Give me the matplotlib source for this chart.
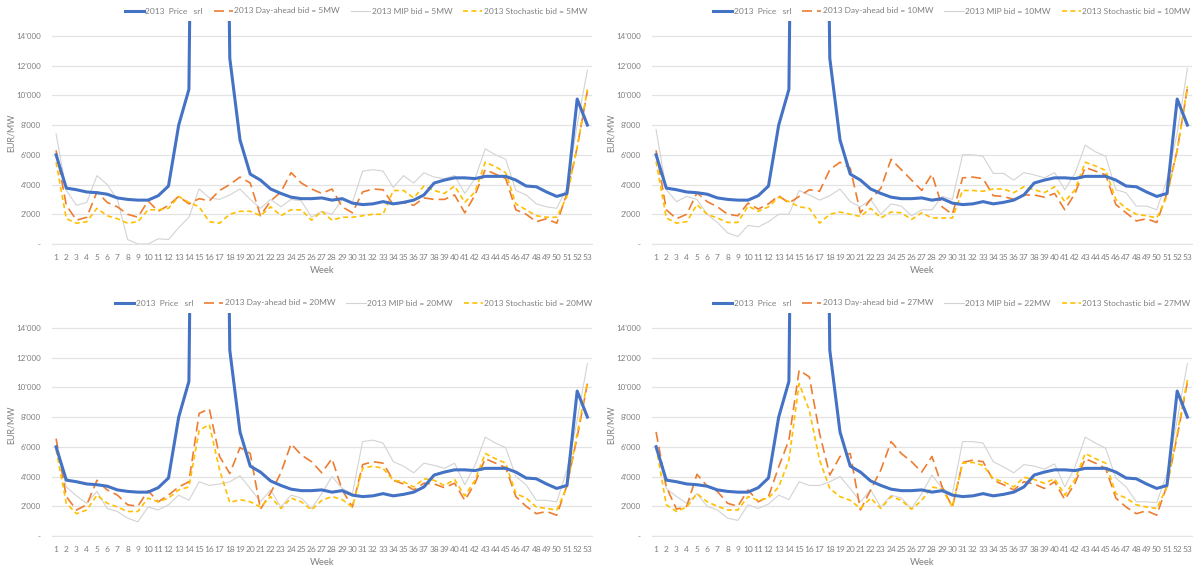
import matplotlib
matplotlib.use("Agg")
import matplotlib.pyplot as plt
from matplotlib.ticker import FuncFormatter, MultipleLocator
import numpy as np

plt.rcParams["font.family"] = ["Lato", "DejaVu Sans"]

weeks = np.arange(1, 54)

# blue price line is the same in all four panels; weeks 15-17 run far off the
# top of the axis in the source, so those three values are rough guesses
price_srl = [6000, 3760, 3650, 3500, 3450, 3350, 3100, 3000, 2950, 2950,
             3250, 3900, 8000, 10400, 75000, 90000, 70000, 12500, 7000, 4700,
             4300, 3700, 3400, 3150, 3050, 3050, 3100, 2950, 3050, 2750,
             2650, 2700, 2850, 2700, 2800, 2950, 3300, 4100, 4300, 4450,
             4450, 4400, 4550, 4550, 4550, 4300, 3900, 3850, 3500, 3200,
             3400, 9750, 8000]

# panel 1: 5 MW
dayahead_5 = [6300, 2600, 1600, 1800, 3500, 2800, 2500, 2000, 1800, 2900,
              2200, 2600, 3200, 2700, 3050, 2900, 3600, 4000, 4500, 4100,
              1900, 2900, 3500, 4800, 4100, 3700, 3400, 3700, 2500, 2100,
              3500, 3700, 3650, 2650, 2800, 2600, 3100, 3000, 3000, 3300,
              2100, 3300, 5000, 4700, 4400, 2300, 2000, 1500, 1700, 1400,
              3400, 6500, 10300]
mip_5 = [7400, 3600, 2600, 2800, 4600, 4000, 3000, 300, 0, 0,
         350, 300, 1100, 1800, 3700, 3100, 3000, 3300, 3700, 3000,
         2400, 3000, 2500, 3000, 2900, 1800, 2200, 2000, 3000, 2800,
         4900, 5000, 4900, 3800, 4600, 4100, 4800, 4500, 4400, 4600,
         3400, 4400, 6400, 6000, 5700, 3600, 3300, 2700, 2500, 2400,
         3800, 8000, 11700]
stoch_5 = [5500, 1700, 1400, 1500, 2400, 1900, 1700, 1400, 1500, 2300,
           2300, 2400, 3200, 2800, 2500, 1500, 1400, 2000, 2200, 2200,
           1900, 2500, 1900, 2300, 2300, 1600, 2200, 1600, 1800, 1800,
           1900, 2000, 2000, 3600, 3600, 3100, 3900, 3600, 3400, 3900,
           2800, 3500, 5500, 5200, 4800, 2700, 2300, 1900, 1800, 1800,
           3200, 6500, 10400]

# panel 2: 10 MW
dayahead_10 = [6300, 2300, 1700, 2000, 3450, 2850, 2500, 2000, 1900, 2750,
               2350, 2700, 3250, 2750, 3200, 3650, 3550, 5000, 5500, 5100,
               2100, 3000, 3750, 5700, 5000, 4300, 3600, 4700, 2500, 2000,
               4450, 4500, 4400, 3250, 3200, 3000, 3300, 3300, 3150, 3400,
               2300, 3400, 5150, 4900, 4650, 2650, 2100, 1550, 1700, 1450,
               3400, 6300, 10500]
mip_10 = [7700, 3650, 2850, 3200, 3000, 2000, 1450, 750, 500, 1250,
          1150, 1500, 2000, 2000, 3600, 3300, 2950, 3250, 3700, 2850,
          2500, 3000, 2000, 2700, 2550, 1900, 2300, 2300, 3200, 3000,
          6000, 6000, 5900, 4750, 4750, 4300, 4800, 4650, 4450, 4800,
          3650, 4750, 6650, 6200, 5900, 3650, 3450, 2550, 2550, 2300,
          4300, 7450, 11800]
stoch_10 = [5550, 1750, 1400, 1500, 2650, 2000, 1750, 1450, 1450, 2550,
            2200, 2500, 3150, 2850, 2500, 2400, 1400, 2000, 2150, 2000,
            1850, 2400, 1750, 2150, 2100, 1650, 2100, 1750, 1750, 1750,
            3600, 3600, 3550, 3700, 3700, 3450, 3850, 3650, 3450, 3850,
            2850, 3650, 5500, 5250, 4950, 3000, 2400, 2000, 1900, 1750,
            3200, 6300, 10600]

# panel 3: 20 MW
dayahead_20 = [6550, 2650, 1750, 2100, 3750, 3100, 2750, 2100, 2000, 3050,
               2300, 2750, 3300, 3650, 8250, 8550, 5350, 4200, 5950, 5550,
               1800, 2900, 4250, 6200, 5450, 5000, 4250, 5200, 3100, 1950,
               4800, 5000, 4900, 3750, 3500, 3100, 3550, 3500, 3250, 3550,
               2400, 3550, 5200, 4900, 4600, 2650, 2000, 1500, 1650, 1400,
               3400, 6650, 10250]
mip_20 = [6000, 3300, 2700, 2200, 3000, 1850, 1650, 1200, 950, 1950,
          1750, 2100, 2750, 2400, 3650, 3400, 3500, 3650, 4050, 3200,
          2300, 3100, 1950, 2750, 2550, 1850, 2850, 4000, 3200, 2850,
          6350, 6450, 6250, 5000, 4700, 4250, 4900, 4750, 4550, 4900,
          3450, 4750, 6650, 6250, 5950, 4000, 3450, 2400, 2400, 2300,
          4450, 7800, 11600]
stoch_20 = [5800, 2200, 1500, 1750, 2750, 2200, 1950, 1650, 1650, 2550,
            2300, 2550, 3100, 3300, 7100, 7500, 4450, 2250, 2450, 2300,
            1950, 2650, 1850, 2550, 2300, 1750, 2400, 2650, 2450, 1950,
            4550, 4700, 4550, 3750, 3650, 3300, 3850, 3750, 3400, 3800,
            2700, 3750, 5550, 5200, 4900, 2850, 2550, 1950, 1850, 1750,
            3300, 6900, 10350]

# panel 4: 27 MW (MIP at 22 MW)
dayahead_27 = [7000, 3300, 1800, 2000, 4150, 3350, 3000, 2200, 2000, 3100,
               2300, 2650, 4650, 6450, 11150, 10700, 6900, 4100, 5350, 5550,
               1750, 3100, 4450, 6350, 5550, 5000, 4300, 5350, 3300, 1950,
               4950, 5100, 5000, 3750, 3450, 3100, 3650, 3500, 3200, 3650,
               2450, 3550, 5200, 4900, 4550, 2550, 1950, 1500, 1700, 1400,
               3400, 6700, 10350]
mip_22 = [6100, 3200, 2650, 2200, 2850, 2000, 1750, 1200, 1050, 2100,
          1850, 2150, 2750, 2450, 3650, 3400, 3400, 3650, 4000, 3200,
          2300, 3100, 1950, 2750, 2550, 1850, 2850, 4100, 3200, 2850,
          6350, 6350, 6250, 5000, 4650, 4250, 4800, 4700, 4500, 4850,
          3300, 4650, 6650, 6250, 5900, 3900, 3300, 2300, 2300, 2250,
          4200, 7800, 11600]
stoch_27 = [6000, 2100, 1650, 1950, 2850, 2300, 2000, 1750, 1750, 2650,
            2400, 2550, 3300, 5100, 10250, 8450, 5100, 3200, 2650, 2400,
            1850, 2550, 1850, 2650, 2400, 1800, 2400, 3300, 3150, 1950,
            4900, 4950, 4750, 3850, 3650, 3300, 3950, 3800, 3550, 3850,
            2750, 3800, 5550, 5200, 4900, 2850, 2550, 2100, 1950, 1850,
            3300, 6900, 10500]

panel_sizes = [("5MW", "5MW", "5MW"), ("10MW", "10MW", "10MW"),
               ("20MW", "20MW", "20MW"), ("27MW", "22MW", "27MW")]
panel_data = [(dayahead_5, mip_5, stoch_5), (dayahead_10, mip_10, stoch_10),
              (dayahead_20, mip_20, stoch_20), (dayahead_27, mip_22, stoch_27)]

BLUE, ORANGE, GREY, YELLOW = "#4472C4", "#ED7D31", "#D3D3D3", "#FFC000"
TXT = "#7F7F7F"

W, H = 1195, 566
# axes boxes in pixels: (left, top, right, bottom)
boxes = [(52, 21, 592, 244), (652, 21, 1192, 244),
         (52, 313, 592, 536), (652, 313, 1192, 536)]
legend_xy = [(356, 11), (952, 11), (354, 303), (952, 303)]


def tick_fmt(v, _):
    if v == 0:
        return "-"
    return f"{int(v):,}".replace(",", "'")


fig = plt.figure(figsize=(W / 100, H / 100), dpi=100)

for (l, t, r, b), (lx, ly), sizes, (da, mip, st) in zip(
        boxes, legend_xy, panel_sizes, panel_data):
    ax = fig.add_axes([l / W, 1 - b / H, (r - l) / W, (b - t) / H])
    ax.plot(weeks, price_srl, color=BLUE, lw=2.2, label="2013  Price   srl",
            zorder=4)
    ax.plot(weeks, da, color=ORANGE, lw=1.2, dashes=(6, 3),
            label=f"2013 Day-ahead bid = {sizes[0]}", zorder=3)
    ax.plot(weeks, mip, color=GREY, lw=0.8,
            label=f"2013 MIP bid = {sizes[1]}", zorder=2)
    ax.plot(weeks, st, color=YELLOW, lw=1.2, dashes=(3, 2),
            label=f"2013 Stochastic bid = {sizes[2]}", zorder=3)

    ax.set_xlim(0.6, 53.45)
    ax.set_ylim(0, 15000)
    ax.yaxis.set_major_locator(MultipleLocator(2000))
    ax.yaxis.set_major_formatter(FuncFormatter(tick_fmt))
    ax.set_xticks(weeks)
    ax.grid(axis="y", color="#E3E3E3", lw=0.9)
    ax.set_axisbelow(True)
    for s in ax.spines.values():
        s.set_visible(False)
    ax.spines["bottom"].set_visible(True)
    ax.spines["bottom"].set_color("#E3E3E3")
    ax.tick_params(length=0, labelsize=6, colors=TXT, pad=7)
    ax.tick_params(axis="y", labelsize=5.8, pad=8)
    ax.set_xlabel("Week", fontsize=6.8, color=TXT, labelpad=4)
    ax.set_ylabel("EUR/MW", fontsize=6.4, color=TXT)
    ax.yaxis.set_label_coords(-0.068, 0.5)

    ax.legend(loc="center", bbox_to_anchor=(lx / W, 1 - ly / H),
              bbox_transform=fig.transFigure, ncol=4, frameon=False,
              fontsize=6.0, labelcolor=TXT, handlelength=2.3,
              handletextpad=0.2, columnspacing=1.3, borderpad=0)

fig.savefig("out.png", dpi=100)
